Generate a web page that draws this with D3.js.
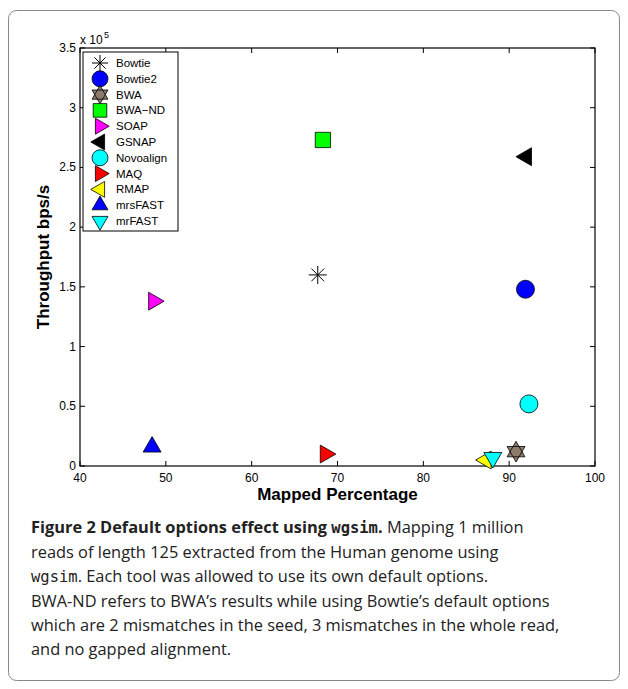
<!DOCTYPE html>
<html><head><meta charset="UTF-8">
<script src="https://d3js.org/d3.v7.min.js"></script>
<style>
body{margin:0;background:#fff;font-family:"Open Sans",sans-serif}
.cap{position:absolute;left:31px;top:515px;white-space:nowrap;font-size:16.4px;line-height:24px;color:#222}
.cap code{font-family:"DejaVu Sans Mono",monospace;font-size:15.5px}
</style></head><body>
<svg width="628" height="689"></svg>
<div class="cap"><b>Figure 2 Default options effect using <code>wgsim</code>.</b> Mapping 1 million<br>reads of length 125 extracted from the Human genome using<br><code>wgsim</code>. Each tool was allowed to use its own default options.<br>BWA-ND refers to BWA’s results while using Bowtie’s default options<br>which are 2 mismatches in the seed, 3 mismatches in the whole read,<br>and no gapped alignment.</div>
<script>
const tools = ["Bowtie","Bowtie2","BWA","BWA\u2212ND","SOAP","GSNAP","Novoalign","MAQ","RMAP","mrsFAST","mrFAST"];
const mapped = [67.7,91.9,90.8,68.3,48.6,92.0,92.3,68.6,87.3,48.4,88.1];
const throughput = [1.6,1.48,0.12,2.73,1.38,2.59,0.52,0.1,0.05,0.16,0.07];
const xTicks = [40,50,60,70,80,90,100];
const yTicks = [0,0.5,1,1.5,2,2.5,3,3.5];
const styles = [
 {s:"star",f:"#000"},{s:"circle",f:"#0000ff"},{s:"hex",f:"#8c7b6b"},{s:"square",f:"#00ff00"},
 {s:"right",f:"#ff00ff"},{s:"left",f:"#000"},{s:"circle",f:"#00ffff"},{s:"right",f:"#ff0000"},
 {s:"left",f:"#ffff00"},{s:"up",f:"#0000ff"},{s:"down",f:"#00ffff"}];
const svg = d3.select("svg");
svg.append("rect").attr("x",8.5).attr("y",10.5).attr("width",611).attr("height",670).attr("rx",8)
 .attr("fill","none").attr("stroke","#888");
const x = d3.scaleLinear().domain([40,100]).range([80,595]);
const y = d3.scaleLinear().domain([0,3.5]).range([466,48]);
const g = svg.append("g").attr("font-family","Liberation Sans, Arial").attr("font-size",12);
g.append("rect").attr("x",80).attr("y",48).attr("width",515).attr("height",418).attr("fill","none").attr("stroke","#000").attr("stroke-width",1.2);
xTicks.forEach(t=>{
 g.append("line").attr("x1",x(t)).attr("x2",x(t)).attr("y1",466).attr("y2",461).attr("stroke","#000");
 g.append("line").attr("x1",x(t)).attr("x2",x(t)).attr("y1",48).attr("y2",53).attr("stroke","#000");
 g.append("text").attr("x",x(t)).attr("y",482).attr("text-anchor","middle").text(t);
});
yTicks.forEach(t=>{
 g.append("line").attr("x1",80).attr("x2",85).attr("y1",y(t)).attr("y2",y(t)).attr("stroke","#000");
 g.append("line").attr("x1",595).attr("x2",590).attr("y1",y(t)).attr("y2",y(t)).attr("stroke","#000");
 g.append("text").attr("x",76).attr("y",y(t)+4).attr("text-anchor","end").text(t);
});
g.append("text").attr("x",80).attr("y",44).text("x 10");
g.append("text").attr("x",104).attr("y",38).attr("font-size",9).text("5");
g.append("text").attr("x",x(70)).attr("y",500).attr("text-anchor","middle").attr("font-weight","bold").attr("font-size",17).text("Mapped Percentage");
g.append("text").attr("transform",`translate(49,${y(1.75)}) rotate(-90)`).attr("text-anchor","middle").attr("font-weight","bold").attr("font-size",17).text("Throughput bps/s");
function shape(sel, st, r){
 const p = sel.append("path").attr("stroke","#000").attr("stroke-width",0.8).attr("fill",st.f);
 let d;
 const tri = a=>d3.range(3).map(i=>{const t=a+i*2*Math.PI/3;return [r*1.15*Math.cos(t),r*1.15*Math.sin(t)];});
 if(st.s==="circle") d=d3.symbol(d3.symbolCircle,Math.PI*r*r)();
 else if(st.s==="square") d=`M${-r*.85},${-r*.85}h${1.7*r}v${1.7*r}h${-1.7*r}Z`;
 else if(st.s==="right") d="M"+tri(0).join("L")+"Z";
 else if(st.s==="left") d="M"+tri(Math.PI).join("L")+"Z";
 else if(st.s==="up") d="M"+tri(-Math.PI/2).join("L")+"Z";
 else if(st.s==="down") d="M"+tri(Math.PI/2).join("L")+"Z";
 else if(st.s==="hex") d="M"+tri(-Math.PI/2).join("L")+"Z M"+tri(Math.PI/2).join("L")+"Z";
 else if(st.s==="star"){ d=d3.range(4).map(i=>{const t=i*Math.PI/4;return `M${-r*Math.cos(t)},${-r*Math.sin(t)}L${r*Math.cos(t)},${r*Math.sin(t)}`;}).join(""); p.attr("fill","none").attr("stroke-width",1);}
 p.attr("d",d);
}
tools.forEach((n,i)=>{
 const m = g.append("g").attr("transform",`translate(${x(mapped[i])},${y(throughput[i])})`);
 shape(m, styles[i], 9);
});
const lg = g.append("g");
lg.append("rect").attr("x",83).attr("y",52).attr("width",95).attr("height",179).attr("fill","#fff").attr("stroke","#000");
tools.forEach((n,i)=>{
 const cy = 63+i*15.8;
 const m = lg.append("g").attr("transform",`translate(100,${cy})`);
 shape(m, styles[i], 8);
 lg.append("text").attr("x",116).attr("y",cy+4).attr("font-size",11.5).text(n);
});
</script></body></html>
